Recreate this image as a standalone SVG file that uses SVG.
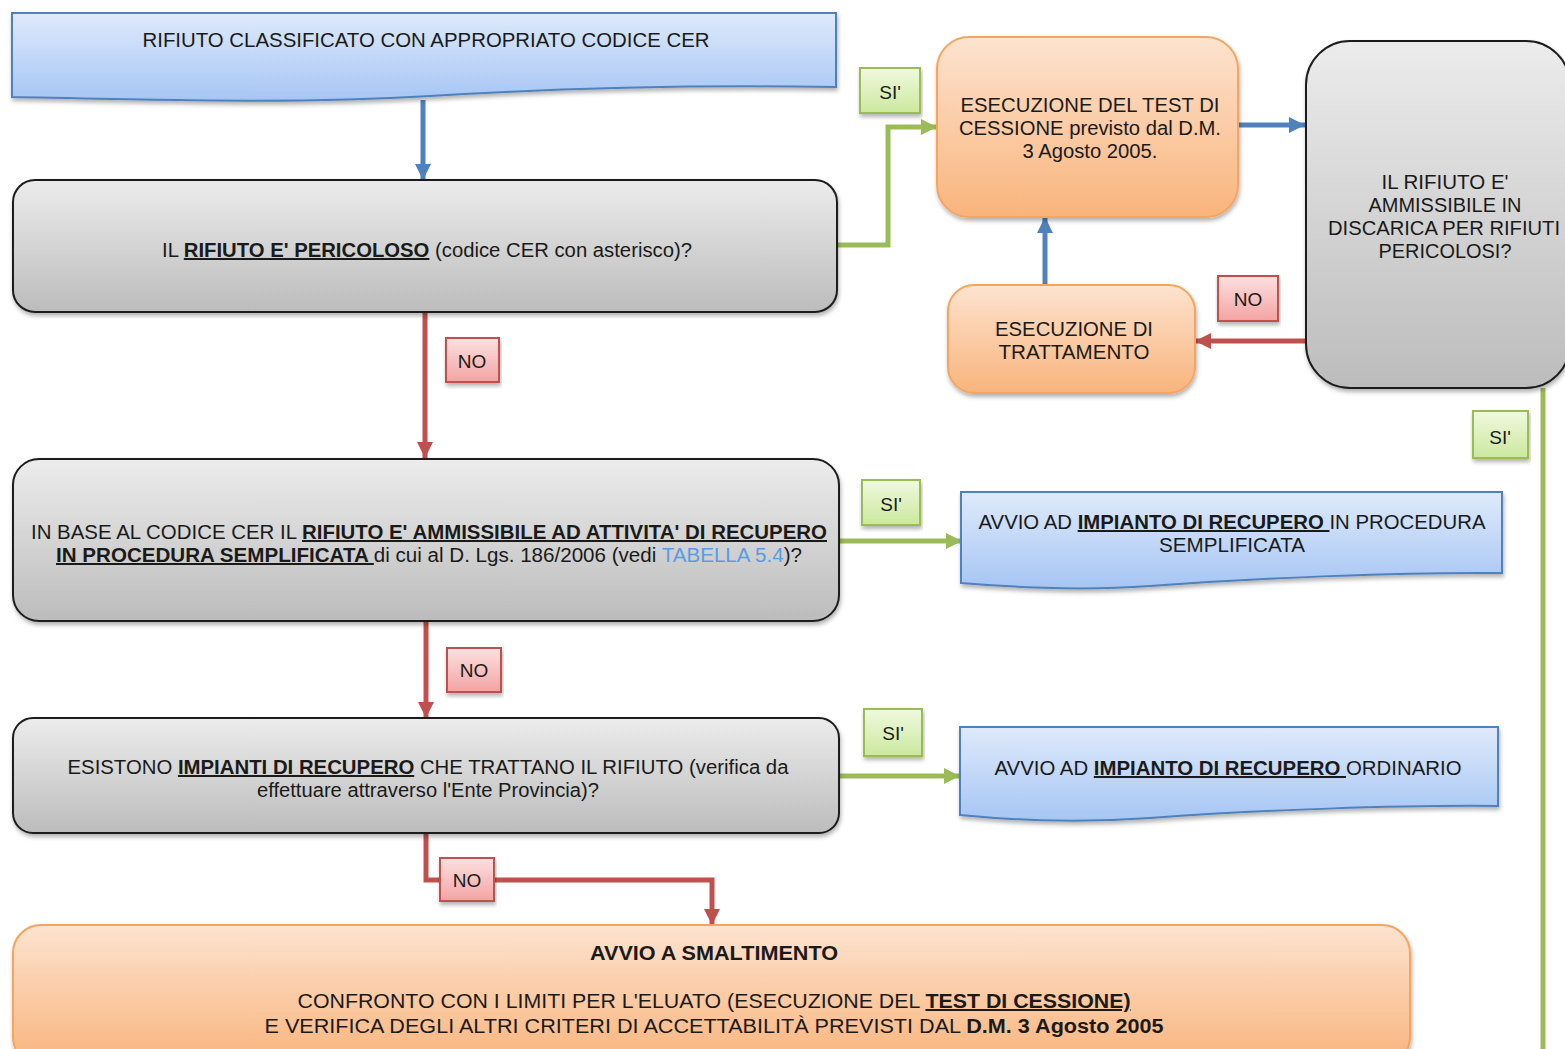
<svg xmlns="http://www.w3.org/2000/svg" width="1565" height="1049" viewBox="0 0 1565 1049">
<defs>
<linearGradient id="gGray" x1="0" y1="0" x2="0" y2="1"><stop offset="0" stop-color="#ececec"/><stop offset="1" stop-color="#bcbcbc"/></linearGradient>
<linearGradient id="gOrange" x1="0" y1="0" x2="0" y2="1"><stop offset="0" stop-color="#fde3cf"/><stop offset="1" stop-color="#f9b47c"/></linearGradient>
<linearGradient id="gBlue" x1="0" y1="0" x2="0" y2="1"><stop offset="0" stop-color="#dfeafb"/><stop offset="1" stop-color="#a6c5f4"/></linearGradient>
<linearGradient id="gGreen" x1="0" y1="0" x2="0" y2="1"><stop offset="0" stop-color="#f0f9de"/><stop offset="1" stop-color="#cbe89e"/></linearGradient>
<linearGradient id="gRed" x1="0" y1="0" x2="0" y2="1"><stop offset="0" stop-color="#fde0e0"/><stop offset="1" stop-color="#f3a3a3"/></linearGradient>
<filter id="sh" x="-5%" y="-5%" width="110%" height="120%"><feDropShadow dx="1" dy="3" stdDeviation="2" flood-color="#000" flood-opacity="0.3"/></filter>
<marker id="aBlue" markerUnits="userSpaceOnUse" markerWidth="16" markerHeight="18" viewBox="0 0 16 18" refX="16" refY="9" orient="auto"><path d="M0,1 L16,9 L0,17 Z" fill="#4f81bd"/></marker>
<marker id="aRed" markerUnits="userSpaceOnUse" markerWidth="16" markerHeight="18" viewBox="0 0 16 18" refX="16" refY="9" orient="auto"><path d="M0,1 L16,9 L0,17 Z" fill="#c0504d"/></marker>
<marker id="aGreen" markerUnits="userSpaceOnUse" markerWidth="16" markerHeight="18" viewBox="0 0 16 18" refX="16" refY="9" orient="auto"><path d="M0,1 L16,9 L0,17 Z" fill="#9bbb59"/></marker>
</defs>
<style>
text{font-family:"Liberation Sans",Arial,sans-serif;font-size:20px;fill:#1a1a1a;text-anchor:middle}
.gray{fill:url(#gGray);stroke:#1e1e1e;stroke-width:2;filter:url(#sh)}
.orange{fill:url(#gOrange);stroke:#f6a55e;stroke-width:2;filter:url(#sh)}
.blue{fill:url(#gBlue);stroke:#4f81bd;stroke-width:2;filter:url(#sh)}
.lg{fill:url(#gGreen);stroke:#9bbb59;stroke-width:2;filter:url(#sh)}
.lr{fill:url(#gRed);stroke:#c0504d;stroke-width:2;filter:url(#sh)}
.lbl{font-size:19px}
.b{font-weight:bold}
.u{text-decoration:underline}
.link{fill:#5b9be0}
.cb{fill:none;stroke:#4f81bd;stroke-width:5;marker-end:url(#aBlue)}
.cr{fill:none;stroke:#c0504d;stroke-width:5;marker-end:url(#aRed)}
.cg{fill:none;stroke:#9bbb59;stroke-width:5;marker-end:url(#aGreen)}
.cgn{fill:none;stroke:#9bbb59;stroke-width:5}
</style>

<g id="connectors">
<path class="cb" d="M423,100 V180"/>
<path class="cg" d="M837,245 H888 V127 H937"/>
<path class="cb" d="M1238,125 H1305"/>
<path class="cr" d="M1305,341 H1195"/>
<path class="cb" d="M1045,285 V217"/>
<path class="cgn" d="M1543,388 V1049"/>
<path class="cr" d="M425,312 V458"/>
<path class="cg" d="M839,541 H962"/>
<path class="cr" d="M426,621 V718"/>
<path class="cg" d="M839,776 H960"/>
<path class="cr" d="M426,833 V880 H712 V925"/>
</g>

<g id="n1">
<path class="blue" d="M12,13 H836 V87 C700,85 560,88 430,96 C300,104 160,100 12,97 Z"/>
<text x="426" y="47" textLength="567" lengthAdjust="spacingAndGlyphs">RIFIUTO CLASSIFICATO CON APPROPRIATO CODICE CER</text>
</g>

<g id="n2">
<rect class="gray" x="13" y="180" width="824" height="132" rx="22"/>
<text x="427" y="257" textLength="530" lengthAdjust="spacingAndGlyphs">IL <tspan class="b u">RIFIUTO E' PERICOLOSO</tspan> (codice CER con asterisco)?</text>
</g>

<g id="n3">
<rect class="orange" x="937" y="37" width="301" height="180" rx="32"/>
<text x="1090" y="112" textLength="259" lengthAdjust="spacingAndGlyphs">ESECUZIONE DEL TEST DI</text>
<text x="1090" y="135" textLength="262" lengthAdjust="spacingAndGlyphs">CESSIONE previsto dal D.M.</text>
<text x="1090" y="158" textLength="135" lengthAdjust="spacingAndGlyphs">3 Agosto 2005.</text>
</g>

<g id="n4">
<rect class="gray" x="1306" y="41" width="264" height="347" rx="44"/>
<text x="1445" y="189" textLength="127" lengthAdjust="spacingAndGlyphs">IL RIFIUTO E'</text>
<text x="1445" y="212" textLength="153" lengthAdjust="spacingAndGlyphs">AMMISSIBILE IN</text>
<text x="1444" y="235" textLength="232" lengthAdjust="spacingAndGlyphs">DISCARICA PER RIFIUTI</text>
<text x="1445" y="258" textLength="133" lengthAdjust="spacingAndGlyphs">PERICOLOSI?</text>
</g>

<g id="n5">
<rect class="orange" x="948" y="285" width="247" height="108" rx="26"/>
<text x="1074" y="336" textLength="158" lengthAdjust="spacingAndGlyphs">ESECUZIONE DI</text>
<text x="1074" y="359" textLength="151" lengthAdjust="spacingAndGlyphs">TRATTAMENTO</text>
</g>

<g id="n6">
<rect class="gray" x="13" y="459" width="826" height="162" rx="26"/>
<text x="429" y="539" textLength="796" lengthAdjust="spacingAndGlyphs">IN BASE AL CODICE CER IL <tspan class="b u">RIFIUTO E' AMMISSIBILE AD ATTIVITA' DI RECUPERO</tspan></text>
<text x="429" y="562" textLength="746" lengthAdjust="spacingAndGlyphs"><tspan class="b u">IN PROCEDURA SEMPLIFICATA </tspan>di cui al D. Lgs. 186/2006 (vedi <tspan class="link">TABELLA 5.4</tspan>)?</text>
</g>

<g id="n7">
<path class="blue" d="M961,492 H1502 V573 C1400,572 1260,578 1150,586 C1080,591 1020,588 961,583 Z"/>
<text x="1232" y="529" textLength="507" lengthAdjust="spacingAndGlyphs">AVVIO AD <tspan class="b u">IMPIANTO DI RECUPERO </tspan>IN PROCEDURA</text>
<text x="1232" y="552" textLength="146" lengthAdjust="spacingAndGlyphs">SEMPLIFICATA</text>
</g>

<g id="n8">
<rect class="gray" x="13" y="718" width="826" height="115" rx="20"/>
<text x="428" y="774" textLength="721" lengthAdjust="spacingAndGlyphs">ESISTONO <tspan class="b u">IMPIANTI DI RECUPERO</tspan> CHE TRATTANO IL RIFIUTO (verifica da</text>
<text x="428" y="797" textLength="342" lengthAdjust="spacingAndGlyphs">effettuare attraverso l'Ente Provincia)?</text>
</g>

<g id="n9">
<path class="blue" d="M960,727 H1498 V806 C1400,805 1260,810 1150,818 C1080,823 1020,821 960,815 Z"/>
<text x="1228" y="775" textLength="467" lengthAdjust="spacingAndGlyphs">AVVIO AD <tspan class="b u">IMPIANTO DI RECUPERO </tspan>ORDINARIO</text>
</g>

<g id="n10">
<rect class="orange" x="13" y="925" width="1397" height="140" rx="28"/>
<text x="714" y="960" class="b" textLength="248" lengthAdjust="spacingAndGlyphs">AVVIO A SMALTIMENTO</text>
<text x="714" y="1008" textLength="833" lengthAdjust="spacingAndGlyphs">CONFRONTO CON I LIMITI PER L'ELUATO (ESECUZIONE DEL <tspan class="b u">TEST DI CESSIONE)</tspan></text>
<text x="714" y="1033" textLength="899" lengthAdjust="spacingAndGlyphs">E  VERIFICA DEGLI ALTRI CRITERI DI ACCETTABILITÀ PREVISTI DAL <tspan class="b">D.M. 3 Agosto 2005</tspan></text>
</g>

<g id="labels">
<rect class="lg" x="860" y="68" width="60" height="45"/><text class="lbl" x="890" y="99">SI'</text>
<rect class="lg" x="862" y="480" width="58" height="45"/><text class="lbl" x="891" y="511">SI'</text>
<rect class="lg" x="864" y="709" width="58" height="47"/><text class="lbl" x="893" y="740">SI'</text>
<rect class="lg" x="1473" y="411" width="55" height="47"/><text class="lbl" x="1500" y="444">SI'</text>
<rect class="lr" x="1218" y="276" width="60" height="45"/><text class="lbl" x="1248" y="306">NO</text>
<rect class="lr" x="446" y="338" width="53" height="44"/><text class="lbl" x="472" y="368">NO</text>
<rect class="lr" x="447" y="648" width="54" height="44"/><text class="lbl" x="474" y="677">NO</text>
<rect class="lr" x="440" y="858" width="54" height="43"/><text class="lbl" x="467" y="887">NO</text>
</g>
</svg>
